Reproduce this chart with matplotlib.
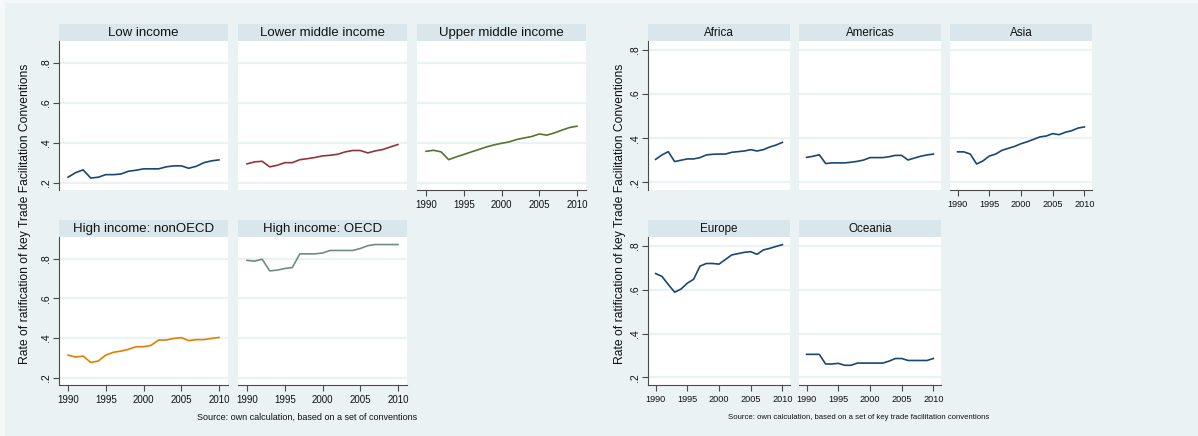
import matplotlib
matplotlib.use('Agg')
import matplotlib.pyplot as plt
from matplotlib.patches import Rectangle

plt.rcParams['font.family'] = ['Liberation Sans', 'DejaVu Sans']

# ---------------- data ----------------
years = [1990, 1991, 1992, 1993, 1994, 1995, 1996, 1997, 1998, 1999, 2000,
         2001, 2002, 2003, 2004, 2005, 2006, 2007, 2008, 2009, 2010]

low_income = [0.227, 0.250, 0.264, 0.223, 0.227, 0.240, 0.240, 0.243, 0.257, 0.262, 0.269,
              0.269, 0.269, 0.279, 0.284, 0.284, 0.272, 0.282, 0.300, 0.309, 0.314]
lower_middle = [0.294, 0.304, 0.307, 0.279, 0.287, 0.300, 0.300, 0.315, 0.320, 0.326, 0.334,
                0.337, 0.342, 0.354, 0.361, 0.361, 0.349, 0.359, 0.366, 0.379, 0.391]
upper_middle = [0.357, 0.362, 0.354, 0.315, 0.329, 0.341, 0.354, 0.366, 0.379, 0.389, 0.397,
                0.404, 0.416, 0.424, 0.431, 0.444, 0.438, 0.449, 0.463, 0.476, 0.483]
high_nonoecd = [0.314, 0.304, 0.309, 0.277, 0.284, 0.314, 0.328, 0.334, 0.343, 0.356, 0.356,
                0.363, 0.390, 0.390, 0.398, 0.402, 0.387, 0.392, 0.392, 0.398, 0.403]
high_oecd = [0.792, 0.788, 0.798, 0.739, 0.743, 0.751, 0.756, 0.825, 0.825, 0.825, 0.829,
             0.842, 0.842, 0.842, 0.842, 0.852, 0.866, 0.872, 0.872, 0.872, 0.872]

africa = [0.304, 0.324, 0.339, 0.294, 0.300, 0.306, 0.306, 0.312, 0.324, 0.327, 0.328,
          0.328, 0.336, 0.339, 0.342, 0.348, 0.342, 0.348, 0.360, 0.369, 0.381]
americas = [0.313, 0.318, 0.325, 0.285, 0.288, 0.288, 0.288, 0.291, 0.295, 0.301, 0.312,
            0.312, 0.312, 0.316, 0.322, 0.322, 0.301, 0.310, 0.318, 0.324, 0.328]
asia = [0.338, 0.338, 0.328, 0.283, 0.297, 0.319, 0.328, 0.345, 0.354, 0.363, 0.375,
        0.384, 0.395, 0.406, 0.410, 0.421, 0.416, 0.427, 0.434, 0.446, 0.451]
europe = [0.674, 0.661, 0.624, 0.589, 0.603, 0.630, 0.648, 0.708, 0.720, 0.720, 0.717,
          0.738, 0.759, 0.765, 0.771, 0.774, 0.762, 0.782, 0.789, 0.798, 0.806]
oceania = [0.305, 0.305, 0.305, 0.261, 0.261, 0.264, 0.255, 0.255, 0.265, 0.265, 0.265,
           0.265, 0.265, 0.274, 0.286, 0.286, 0.277, 0.277, 0.277, 0.277, 0.286]

income_titles = ['Low income', 'Lower middle income', 'Upper middle income',
                 'High income: nonOECD', 'High income: OECD']
region_titles = ['Africa', 'Americas', 'Asia', 'Europe', 'Oceania']

y_ticks = [0.2, 0.4, 0.6, 0.8]
y_ticklabels = ['.2', '.4', '.6', '.8']
x_ticks = [1990, 1995, 2000, 2005, 2010]
x_ticklabels = ['1990', '1995', '2000', '2005', '2010']

ylabel = 'Rate of ratification of key Trade Facilitation Conventions'
note_left = 'Source: own calculation, based on a set of conventions'
note_right = 'Source: own calculation, based on a set of key trade facilitation conventions'

# ---------------- style ----------------
W, H = 1198, 436
BG = '#EAF2F3'
STRIP = '#D9E6EB'
AXC = '#4a4a4a'
NAVY = '#1A476F'
colors_income = [NAVY, '#90353B', '#55752F', '#E37E00', '#6E8E84']

fig = plt.figure(figsize=(W / 100, H / 100), dpi=100)
fig.patch.set_facecolor('#F4F8F9')
fig.add_artist(Rectangle((5 / W, -0.05), 1, 1.05 - 3 / H, transform=fig.transFigure,
                         facecolor=BG, edgecolor='none', zorder=-10))


def px_axes(x0, y0, x1, y1):
    return fig.add_axes([x0 / W, 1 - y1 / H, (x1 - x0) / W, (y1 - y0) / H])


ROWS = [(24, 41, 190), (220, 237, 385)]  # header top, plot top, plot bottom


def panel(x0, x1, row, title, yvals, color, ylim, show_y, show_x,
          title_fs, tick_fs, ytick_fs):
    ht, pt, pb = ROWS[row]
    hax = px_axes(x0, ht, x1, pt)
    hax.set_facecolor(STRIP)
    hax.set_xticks([])
    hax.set_yticks([])
    for s in hax.spines.values():
        s.set_visible(False)
    hax.text(0.5, 0.45, title, ha='center', va='center', fontsize=title_fs,
             color='#111111', transform=hax.transAxes)

    ax = px_axes(x0, pt, x1, pb)
    ax.set_facecolor('white')
    ax.plot(years, yvals, color=color, lw=1.2, solid_joinstyle='round')
    ax.set_xlim(1988.8, 2011.2)
    ax.set_ylim(*ylim)
    ax.set_yticks(y_ticks)
    ax.set_yticklabels(y_ticklabels, rotation=90, va='center', fontsize=ytick_fs)
    ax.set_xticks(x_ticks)
    ax.set_xticklabels(x_ticklabels, fontsize=tick_fs)
    ax.yaxis.grid(True, color=BG, lw=1.6)
    ax.set_axisbelow(True)
    for name, s in ax.spines.items():
        s.set_visible(False)
        s.set_color(AXC)
        s.set_linewidth(0.8)
    ax.tick_params(axis='both', direction='out', length=4, width=0.8,
                   color=AXC, labelcolor='#111111')
    ax.tick_params(axis='y', pad=2)
    ax.tick_params(axis='x', pad=3)
    if show_y:
        ax.spines['left'].set_visible(True)
    else:
        ax.tick_params(axis='y', left=False, labelleft=False)
    if show_x:
        ax.spines['bottom'].set_visible(True)
    else:
        ax.tick_params(axis='x', bottom=False, labelbottom=False)
    return ax


# left graph: income groups
left_cols = [(59, 228), (238, 407), (417, 586)]
ylim_left = (0.163, 0.910)
income_series = [low_income, lower_middle, upper_middle, high_nonoecd, high_oecd]
income_pos = [(0, 0), (0, 1), (0, 2), (1, 0), (1, 1)]
for i, (r, c) in enumerate(income_pos):
    panel(left_cols[c][0], left_cols[c][1], r, income_titles[i], income_series[i],
          colors_income[i], ylim_left, show_y=(c == 0),
          show_x=(r == 1 or c == 2), title_fs=9.5, tick_fs=7, ytick_fs=7.5)

# right graph: regions
right_cols = [(648, 790), (799, 941), (950, 1092)]
ylim_right = (0.165, 0.841)
region_series = [africa, americas, asia, europe, oceania]
for i, (r, c) in enumerate(income_pos):
    panel(right_cols[c][0], right_cols[c][1], r, region_titles[i], region_series[i],
          NAVY, ylim_right, show_y=(c == 0),
          show_x=(r == 1 or c == 2), title_fs=8.4, tick_fs=6.6, ytick_fs=7.5)

# axis titles
fig.text(25 / W, 1 - 214 / H, ylabel, rotation=90, ha='center', va='center',
         fontsize=8.7, color='#111111')
fig.text(620 / W, 1 - 214 / H, ylabel, rotation=90, ha='center', va='center',
         fontsize=8.7, color='#111111')

# notes
fig.text(197 / W, 1 - 417 / H, note_left, ha='left', va='center', fontsize=6.5,
         color='#111111')
fig.text(728 / W, 1 - 417 / H, note_right, ha='left', va='center', fontsize=5.6,
         color='#111111')

fig.savefig('out.png', dpi=100, facecolor=fig.get_facecolor())
